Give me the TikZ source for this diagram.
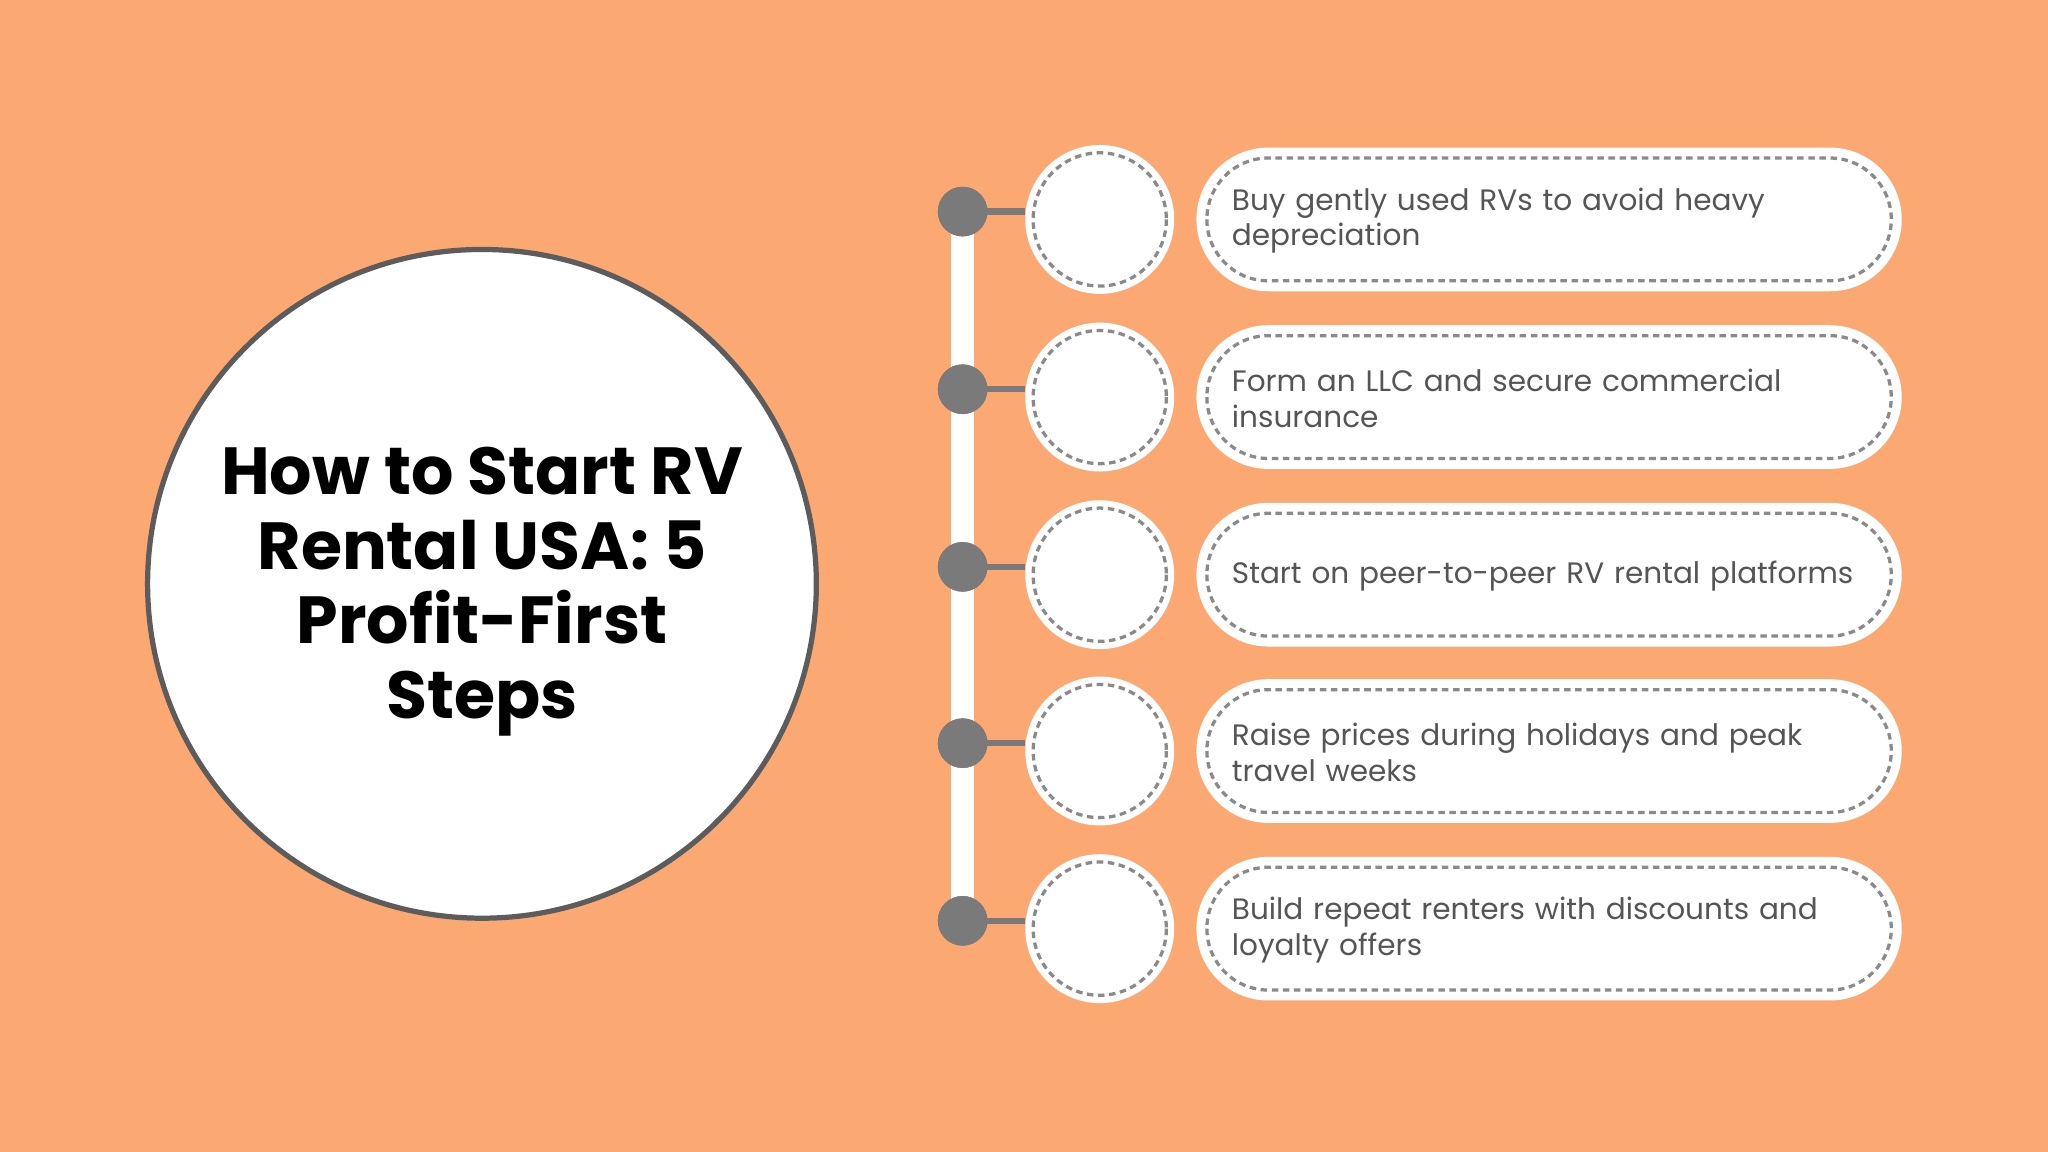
\documentclass[tikz,border=0pt]{standalone}
\usepackage{fontspec}
\setmainfont{Poppins}
\usetikzlibrary{positioning}
\definecolor{bgOrange}{HTML}{FCA872}
\definecolor{rimGray}{HTML}{5C5C5C}
\definecolor{dotGray}{HTML}{7A7A7A}
\definecolor{dashGray}{HTML}{8A8A8A}
\definecolor{textGray}{HTML}{555555}
\begin{document}
\begin{tikzpicture}[x=1pt,y=-1pt,%%
  titleStyle/.style={circle,draw=rimGray,line width=4pt,fill=white,minimum size=512pt,inner sep=0pt},%%
  headStyle/.style={align=center,font=\fontsize{51}{57}\selectfont\bfseries},%%
  dotStyle/.style={circle,fill=dotGray,minimum size=38pt,inner sep=0pt},%%
  ringStyle/.style={circle,fill=white,minimum size=114pt,inner sep=0pt},%%
  boxStyle/.style={rounded corners=55pt,fill=white,minimum width=540pt,minimum height=110pt,inner sep=0pt},%%
  textStyle/.style={text=textGray,align=left,text width=490pt,inner sep=0pt,font=\fontsize{22.6}{27}\selectfont}
]
%%
\fill[bgOrange] (0,0) rectangle (1568,882);
\useasboundingbox (0,0) rectangle (1568,882);
%%
%% The title circle.
\node[titleStyle] (title) at (369,447) {};
\node[headStyle] (heading) at (369,453) {How to Start RV\\Rental USA: 5\\Profit-First\\Steps};
%%
%% The white spine.
\coordinate (spineTop) at (737,162);
\coordinate (spineBot) at (737,705);
\draw[white,line width=18pt] (spineTop) -- (spineBot);
%%
\foreach \i/\y/\txt in {1/168/{Buy gently used RVs to avoid heavy\\depreciation},
  2/304/{Form an LLC and secure commercial\\insurance},
  3/440/{Start on peer-to-peer RV rental platforms},
  4/575/{Raise prices during holidays and peak\\travel weeks},
  5/711/{Build repeat renters with discounts and\\loyalty offers}}{
  \node[ringStyle] (ring\i) at (842,\y) {};
  \draw[dashGray,line width=2.5pt,dash pattern=on 5pt off 3.5pt] (ring\i.center) circle[radius=51];
  \node[dotStyle] (dot\i) at (737,\y-6) {};
  \draw[dotGray,line width=5pt] (dot\i.center) -- (785,\y-6);
  \node[dotStyle] at (dot\i) {};
  \node[boxStyle] (box\i) at (1186,\y) {};
  \draw[dashGray,line width=2.5pt,dash pattern=on 5pt off 3.5pt,rounded corners=47pt]
    (924,\y-47) rectangle (1448,\y+47);
  \node[textStyle,anchor=west] (step\i) at (943,\y+1) {\txt};
}
\end{tikzpicture}
\end{document}
